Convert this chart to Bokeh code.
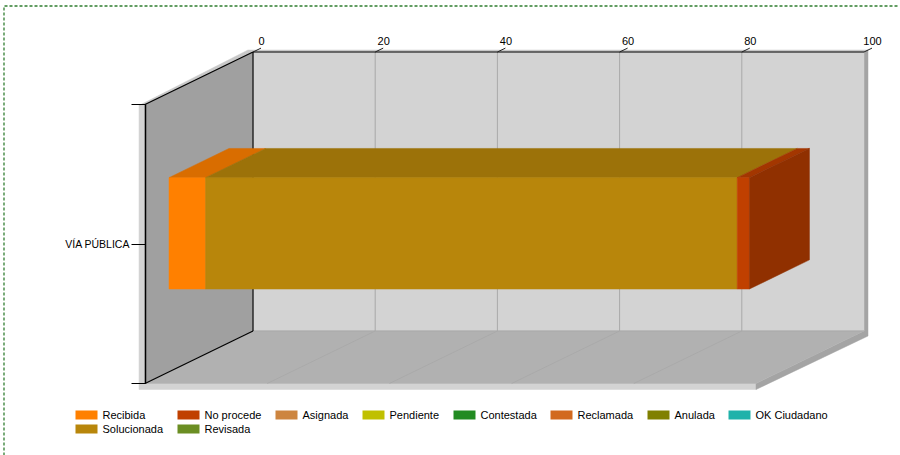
from bokeh.plotting import figure
from bokeh.embed import file_html
from bokeh.resources import INLINE
from bokeh.models import FixedTicker, Range1d
from bokeh.core.properties import value

# ---- data ----
category_labels = ["VÍA PÚBLICA"]
series_names = ["Recibida", "No procede", "Asignada", "Pendiente", "Contestada",
                "Reclamada", "Anulada", "OK Ciudadano", "Solucionada", "Revisada"]
series_colors = ["#FF8000", "#C04000", "#CD853F", "#C0C000", "#228B22",
                 "#D2691E", "#808000", "#20B2AA", "#B8860B", "#6B8E23"]
# stacking order of the non-empty segments, with values
stack_names = ["Recibida", "Solucionada", "No procede"]
stack_values = [6, 87, 2]
x_ticks = [0, 20, 40, 60, 80, 100]

# ---- layout ----
W, H = 900, 455
FONT = value("Liberation Sans")
PXU = 6.11          # pixels per value unit
PYU = 279.0         # pixels per category unit
DX, DY = 108.0, 52.5  # pixels of one whole depth
X0 = 261.0          # pixel of value 0 on the axis label plane
Y0 = 243.5          # pixel of the category centre on the front plane
FRONT_X = 144.5     # pixel of value 0 on the front plane


def sx(px):
    return (px - X0) / PXU


def sy(py):
    return (Y0 - py) / PYU


def P(v, cat, depth):
    """3-D (value, category, depth 0..1) to data coordinates of the figure."""
    return (sx(FRONT_X) + v + depth * DX / PXU, cat + depth * DY / PYU)


def poly(*pts):
    return [p[0] for p in pts], [p[1] for p in pts]


def shade(hex_color, f):
    r, g, b = (int(hex_color[i:i + 2], 16) for i in (1, 3, 5))
    return "#%02X%02X%02X" % (round(r * f), round(g * f), round(b * f))


p = figure(width=W, height=H, output_backend="svg", toolbar_location=None,
           x_range=Range1d(sx(0), sx(W)), y_range=Range1d(sy(H), sy(0)),
           min_border=0, min_border_left=0, min_border_right=0,
           min_border_top=0, min_border_bottom=0,
           background_fill_color="white", outline_line_color=None,
           x_axis_location="above", y_axis_location="left")
p.styles = {"position": "absolute", "left": "0px", "top": "0px"}
p.grid.visible = False

VMAX = x_ticks[-1]
C0, C1 = -0.5, 0.5


def patch(pts, color):
    xs, ys = poly(*pts)
    p.patch(xs, ys, fill_color=color, line_color=color, line_width=0.5)


# rims of the 3-D box
fl, fr = P(0, C0, 0), P(VMAX, C0, 0)
bl, br = P(0, C0, 1), P(VMAX, C0, 1)
tl, tb = P(0, C1, 0), P(0, C1, 1)
tr = P(VMAX, C1, 1)
off = lambda pt, dx, dy: (pt[0] + dx / PXU, pt[1] - dy / PYU)

# light rim: left, bottom, top
patch([off(tl, -6, 0), tl, fl, fr, off(fr, 0, 6), off(fl, -6, 6)], "#D3D3D3")
patch([off(tl, -6, 1), off(tb, -5, -2), off(tr, 4, -2), tr, tb, tl], "#C8C8C8")
# dark rim: right
patch([tr, off(tr, 4, -2), off(br, 4, 5), off(fr, 0, 6), fr, br], "#A4A4A4")
# walls
patch([tl, tb, bl, fl], "#A0A0A0")
patch([tb, tr, br, bl], "#D3D3D3")
patch([fl, bl, br, fr], "#B1B1B1")

# grid lines on the wall and the floor
for t in x_ticks[1:-1]:
    a, b, c = P(t, C1, 1), P(t, C0, 1), P(t, C0, 0)
    p.line(*poly(a, b), line_color="#A9A9A9", line_width=1)
    p.line(*poly(b, c), line_color="#A6A6A6", line_width=0.7)
p.line(*poly(bl, br), line_color="#A9A9A9", line_width=1)

# black edges of the box
for seg in [(tb, tr), (tl, tb), (tb, bl), (fl, bl)]:
    p.line(*poly(*seg), line_color="black", line_width=1.2)

# slanted ticks toward the labels
for t in x_ticks:
    a, b = P(t, C1, 1), P(t, C1, 1 + 8 / DX)
    p.line(*poly(a, b), line_color="#222222", line_width=1)

# ---- stacked 3-D bar ----
BAR_HALF = 55.7 / PYU
BAR_DROP = 1.0 / PYU
D0, D1 = 24 / DX, 84 / DX
CAT = 0 - BAR_DROP
start = 0
for name, val in zip(stack_names, stack_values):
    col = series_colors[series_names.index(name)]
    end = start + val
    # top face
    patch([P(start, CAT + BAR_HALF, D0), P(end, CAT + BAR_HALF, D0),
           P(end, CAT + BAR_HALF, D1), P(start, CAT + BAR_HALF, D1)], shade(col, 0.85))
    # front face
    patch([P(start, CAT - BAR_HALF, D0), P(end, CAT - BAR_HALF, D0),
           P(end, CAT + BAR_HALF, D0), P(start, CAT + BAR_HALF, D0)], col)
    start = end
# right side of the last segment
last = series_colors[series_names.index(stack_names[-1])]
patch([P(start, CAT - BAR_HALF, D0), P(start, CAT + BAR_HALF, D0),
       P(start, CAT + BAR_HALF, D1), P(start, CAT - BAR_HALF, D1)], shade(last, 0.75))

# ---- axes ----
xa = p.xaxis[0]
xa.fixed_location = P(0, C1, 1 + 8 / DX)[1]
xa.ticker = FixedTicker(ticks=x_ticks)
xa.axis_line_color = None
xa.major_tick_line_color = None
xa.minor_tick_line_color = None
xa.major_label_standoff = -3
xa.major_label_text_font = "Liberation Sans"
xa.major_label_text_font_size = "11px"
xa.major_label_text_color = "black"

ya = p.yaxis[0]
ya.fixed_location = sx(FRONT_X)
ya.ticker = FixedTicker(ticks=[C0, 0, C1])
ya.major_label_overrides = {C0: "", 0: category_labels[0], C1: ""}
ya.bounds = (C0, C1)
ya.axis_line_color = "black"
ya.axis_line_width = 1.5
ya.major_tick_line_color = "black"
ya.major_tick_in = 0
ya.major_tick_out = 14
ya.minor_tick_line_color = None
ya.major_label_standoff = 1
ya.major_label_text_font = "Liberation Sans"
ya.major_label_text_font_size = "10.5px"
ya.major_label_text_color = "black"

# ---- legend (flowed in two rows) ----
COL_X = [75, 177, 275, 362, 453, 550, 647, 728]
ROW_Y = [414.5, 428.5]
for i, (name, col) in enumerate(zip(series_names, series_colors)):
    row, c = divmod(i, len(COL_X))
    lx, ly = COL_X[c], ROW_Y[row]
    p.quad(left=[sx(lx)], right=[sx(lx + 22)], top=[sy(ly - 4.5)], bottom=[sy(ly + 4.5)],
           fill_color=col, line_color=None)
    p.text(x=[sx(lx + 27)], y=[sy(ly)], text=[name], text_font=FONT, text_font_size="11px",
           text_color="black", text_baseline="middle", text_align="left")

# ---- dashed control border ----
p.line([sx(3.5), sx(3.5), sx(898)], [sy(455), sy(5.5), sy(5.5)],
       line_color="#2F7D2F", line_width=1.3, line_dash="3 2")

open("out.html", "w").write(file_html(p, INLINE))
